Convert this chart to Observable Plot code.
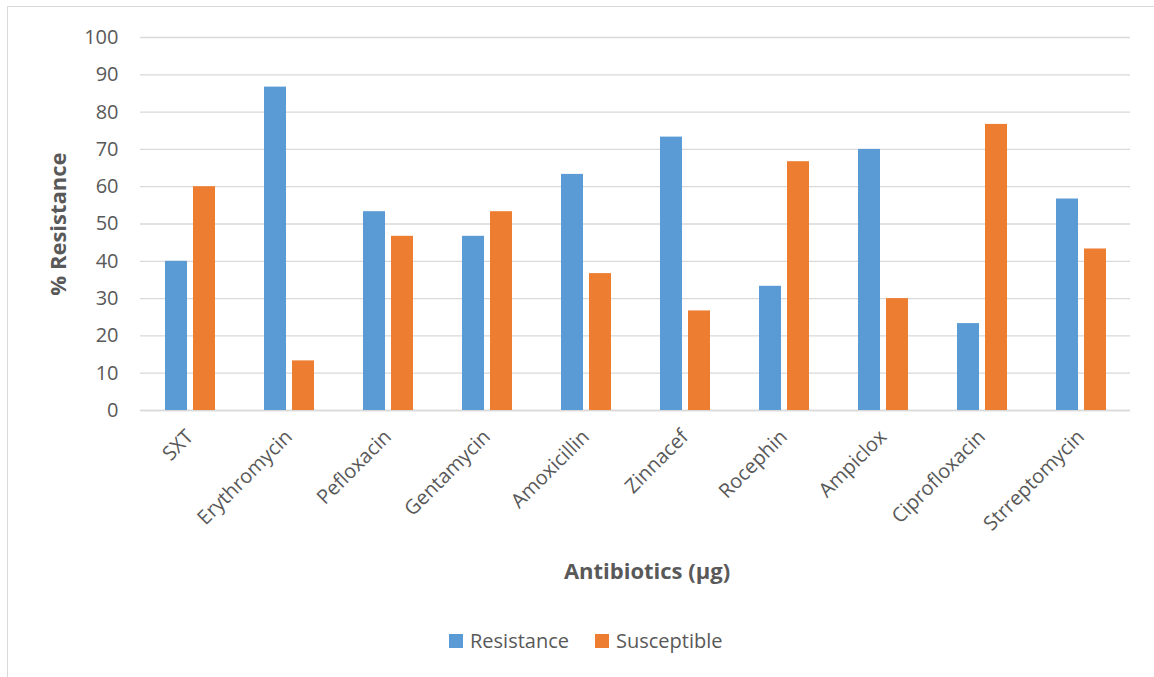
<!DOCTYPE html>
<html>
<head>
<meta charset="utf-8">
<script src="https://cdn.jsdelivr.net/npm/d3@7"></script>
<script src="https://cdn.jsdelivr.net/npm/@observablehq/plot@0.6"></script>
<style>
  body { margin: 0; background: #fff; }
  #wrap { position: relative; width: 1154px; height: 677px; overflow: hidden; font-family: "Open Sans", sans-serif; color: #595959; }
  #frame { position: absolute; left: 7px; top: 6px; width: 1200px; height: 700px; border-left: 1.5px solid #d9d9d9; border-top: 1.5px solid #d9d9d9; }
  #chart { position: absolute; left: 0; top: 0; }
  #chart g[aria-label="y-axis label"] text { font-weight: bold; font-size: 22px; }
  #xtitle { position: absolute; left: 547px; width: 200px; top: 555px; text-align: center; font-weight: bold; font-size: 22px; line-height: 30px; }
  #legend { position: absolute; left: 449px; top: 627px; display: flex; gap: 26px; font-size: 20px; line-height: 28px; }
  #legend .item { display: flex; align-items: center; gap: 7px; }
  #legend .sw { width: 14px; height: 14px; display: inline-block; }
</style>
</head>
<body>
<div id="wrap">
  <div id="frame"></div>
  <div id="chart"></div>
  <div id="xtitle"></div>
  <div id="legend"></div>
</div>
<script>
// Antibiotic susceptibility (%), two series per antibiotic
const drugs = ["SXT", "Erythromycin", "Pefloxacin", "Gentamycin", "Amoxicillin",
               "Zinnacef", "Rocephin", "Ampiclox", "Ciprofloxacin", "Strreptomycin"];
const resistance  = [40, 86.7, 53.3, 46.7, 63.3, 73.3, 33.3, 70, 23.3, 56.7];
const susceptible = [60, 13.3, 46.7, 53.3, 36.7, 26.7, 66.7, 30, 76.7, 43.3];
const seriesNames = ["Resistance", "Susceptible"];
const seriesColors = ["#5B9BD5", "#ED7D31"];
const yTicks = [0, 10, 20, 30, 40, 50, 60, 70, 80, 90, 100];
const xTitle = "Antibiotics (µg)";
const yTitle = "% Resistance";

const rows = drugs.flatMap((drug, i) => [
  {drug, series: seriesNames[0], value: resistance[i]},
  {drug, series: seriesNames[1], value: susceptible[i]}
]);

const chart = Plot.plot({
  width: 1154,
  height: 620,
  marginTop: 37,
  marginRight: 24,
  marginBottom: 210,
  marginLeft: 140,
  style: {fontFamily: "'Open Sans', sans-serif", fontSize: "20px", color: "#595959", background: "transparent", overflow: "visible"},
  fx: {domain: drugs, padding: 0},
  x: {domain: seriesNames, paddingInner: 6 / 28, paddingOuter: 0.875, axis: null},
  y: {domain: [0, 100]},
  color: {domain: seriesNames, range: seriesColors},
  marks: [
    Plot.gridY(yTicks, {stroke: "#d9d9d9", strokeOpacity: 1, strokeWidth: 1.3}),
    Plot.ruleY([0], {stroke: "#d9d9d9", strokeWidth: 1.5}),
    Plot.barY(rows, {fx: "drug", x: "series", y: "value", fill: "series"}),
    Plot.axisY(yTicks, {
      tickSize: 0, tickPadding: 22, fontSize: 20,
      label: yTitle, labelAnchor: "center", labelArrow: "none", labelOffset: 90
    }),
    Plot.axisFx({
      anchor: "bottom",
      tickSize: 0, tickPadding: 23, tickRotate: -45, fontSize: 20,
      label: null
    })
  ]
});
document.getElementById("chart").append(chart);
document.getElementById("xtitle").textContent = xTitle;

// Legend below the plot
const legend = d3.select("#legend");
seriesNames.forEach((name, i) => {
  const item = legend.append("div").attr("class", "item");
  item.append("span").attr("class", "sw").style("background", seriesColors[i]);
  item.append("span").text(name);
});
</script>
</body>
</html>
